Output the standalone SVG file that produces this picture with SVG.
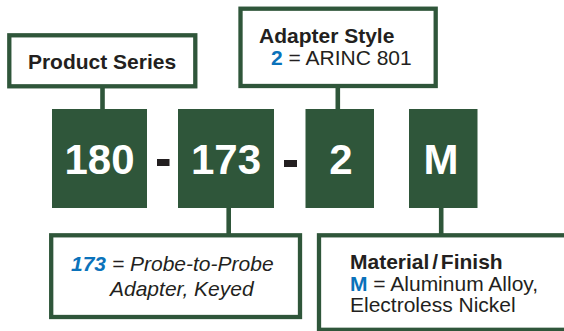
<svg xmlns="http://www.w3.org/2000/svg" width="564" height="331" viewBox="0 0 564 331">
<style>
.lbl{fill:#ffffff;stroke:#2f563a;stroke-width:4.3}
.blk{fill:#2f563a}
.con{stroke:#2f563a;stroke-width:4.6;fill:none}
.t{font-family:"Liberation Sans",Arial,sans-serif;font-size:21px;fill:#231f20}
.b{font-weight:bold}
.blue{fill:#0a72ba}
.num{font-family:"Liberation Sans",Arial,sans-serif;font-size:42px;font-weight:bold;fill:#ffffff;text-anchor:middle}
.dash{fill:#231f20}
</style>
<rect width="564" height="331" fill="#ffffff"/>
<g id="connectors">
<line class="con" x1="102.5" y1="88" x2="102.5" y2="110"/>
<line class="con" x1="337.8" y1="88" x2="337.8" y2="110"/>
<line class="con" x1="228.7" y1="207" x2="228.7" y2="234"/>
<line class="con" x1="441.2" y1="207" x2="441.2" y2="234"/>
</g>
<g id="product-series">
<rect class="lbl" x="9.3" y="35.3" width="186" height="51"/>
<text class="t b" x="102" y="69" text-anchor="middle">Product Series</text>
</g>
<g id="adapter-style">
<rect class="lbl" x="240.5" y="8.7" width="195.2" height="77.3"/>
<text class="t b" x="259" y="43">Adapter Style</text>
<text class="t" x="271" y="65"><tspan class="b blue">2</tspan> = ARINC 801</text>
</g>
<g id="code-180">
<rect class="blk" x="52" y="109" width="95" height="99"/>
<text class="num" x="99.5" y="174">180</text>
</g>
<rect class="dash" x="157" y="159" width="12.5" height="7"/>
<g id="code-173">
<rect class="blk" x="178" y="109" width="96" height="99"/>
<text class="num" x="226" y="174">173</text>
</g>
<rect class="dash" x="284" y="160" width="13" height="7"/>
<g id="code-2">
<rect class="blk" x="305.5" y="109" width="68.5" height="99"/>
<text class="num" x="341" y="174">2</text>
</g>
<g id="code-M">
<rect class="blk" x="409" y="109" width="68.5" height="99"/>
<text class="num" x="441" y="174">M</text>
</g>
<g id="type-173">
<rect class="lbl" x="51.2" y="235.3" width="248.8" height="81.7"/>
<text class="t" x="71" y="271" font-style="italic"><tspan class="b blue">173</tspan> = Probe-to-Probe</text>
<text class="t" x="110" y="296" font-style="italic">Adapter, Keyed</text>
</g>
<g id="material-finish">
<rect class="lbl" x="319" y="235.3" width="260" height="94.5"/>
<text class="t b" x="350" y="269" word-spacing="-3">Material / Finish</text>
<text class="t" x="350" y="291"><tspan class="b blue">M</tspan> = Aluminum Alloy,</text>
<text class="t" x="350" y="312">Electroless Nickel</text>
</g>
</svg>
